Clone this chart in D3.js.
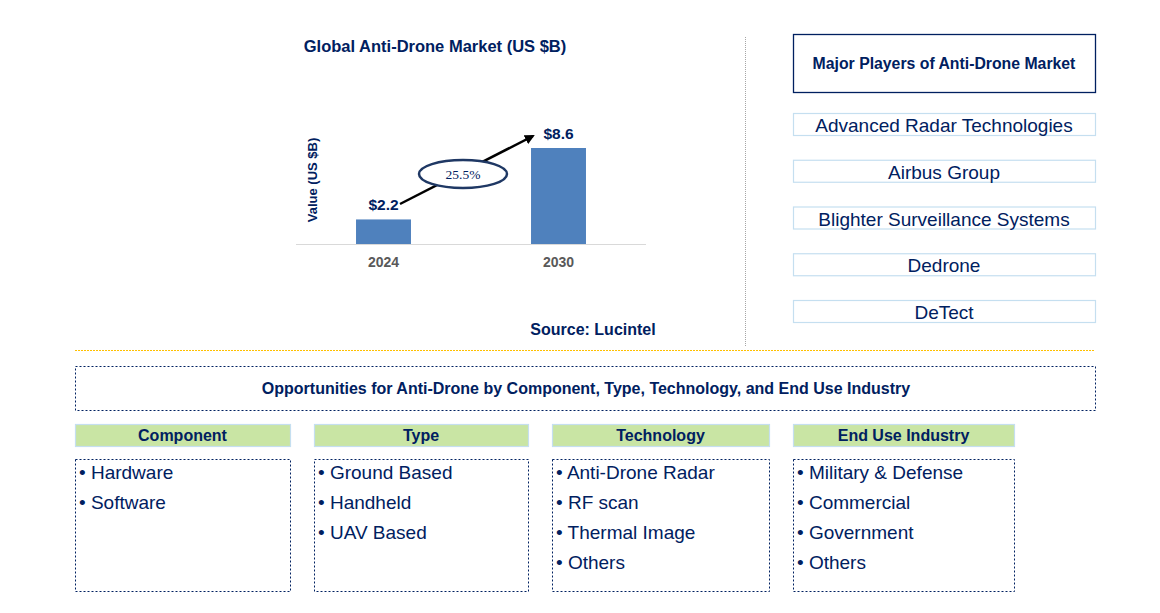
<!DOCTYPE html>
<html><head><meta charset="utf-8">
<script src="https://cdn.jsdelivr.net/npm/d3@7"></script>
<style>body{margin:0;background:#fff}svg{display:block;font-family:"Liberation Sans",Arial,sans-serif}</style>
</head><body><svg id="c" width="1160" height="613"></svg>
<script>
const years = ["2024", "2030"];
const values = [2.2, 8.6];
const valueLabels = ["$2.2", "$8.6"];
const cagr = "25.5%";
const chartTitle = "Global Anti-Drone Market (US $B)";
const yAxisTitle = "Value (US $B)";
const source = "Source: Lucintel";
const playersTitle = "Major Players of Anti-Drone Market";
const players = ["Advanced Radar Technologies", "Airbus Group", "Blighter Surveillance Systems", "Dedrone", "DeTect"];
const oppTitle = "Opportunities for Anti-Drone by Component, Type, Technology, and End Use Industry";
const segments = ["Component", "Type", "Technology", "End Use Industry"];
const segmentItems = [
  ["Hardware", "Software"],
  ["Ground Based", "Handheld", "UAV Based"],
  ["Anti-Drone Radar", "RF scan", "Thermal Image", "Others"],
  ["Military & Defense", "Commercial", "Government", "Others"]
];

const navy = "#002060";
const svg = d3.select("#c");

// Chart
const x = d3.scaleBand().domain(years).range([296, 646]).paddingInner(0.686).paddingOuter(0.343);
const y = d3.scaleLinear().domain([0, 8.6]).range([244, 148]);

svg.append("text").attr("x", 435).attr("y", 52).attr("text-anchor", "middle")
  .attr("font-size", 16.5).attr("font-weight", "bold").attr("fill", navy).text(chartTitle);

svg.selectAll("rect.bar").data(values).join("rect").attr("class", "bar")
  .attr("x", (d, i) => x(years[i])).attr("width", x.bandwidth())
  .attr("y", d => y(d)).attr("height", d => y(0) - y(d)).attr("fill", "#4F81BD");

svg.append("line").attr("x1", 296).attr("x2", 646).attr("y1", y(0) + 0.5).attr("y2", y(0) + 0.5)
  .attr("stroke", "#D9D9D9").attr("stroke-width", 1);

svg.selectAll("text.yr").data(years).join("text").attr("class", "yr")
  .attr("x", d => x(d) + x.bandwidth() / 2).attr("y", 267).attr("text-anchor", "middle")
  .attr("font-size", 14).attr("font-weight", "bold").attr("fill", "#595959").text(d => d);

svg.selectAll("text.vl").data(values).join("text").attr("class", "vl")
  .attr("x", (d, i) => x(years[i]) + x.bandwidth() / 2).attr("y", d => y(d) - 9).attr("text-anchor", "middle")
  .attr("font-size", 15.5).attr("font-weight", "bold").attr("fill", navy).text((d, i) => valueLabels[i]);

svg.append("text").attr("transform", "translate(317,180) rotate(-90)").attr("text-anchor", "middle")
  .attr("font-size", 13).attr("font-weight", "bold").attr("fill", navy).text(yAxisTitle);

// Arrow
const defs = svg.append("defs");
defs.append("marker").attr("id", "ah").attr("viewBox", "0 0 10 10").attr("refX", 8).attr("refY", 5)
  .attr("markerWidth", 4).attr("markerHeight", 4).attr("orient", "auto")
  .append("path").attr("d", "M0,0L10,5L0,10z").attr("fill", "#000");
svg.append("line").attr("x1", 400).attr("y1", 204).attr("x2", 533).attr("y2", 136)
  .attr("stroke", "#000").attr("stroke-width", 2.5).attr("marker-end", "url(#ah)");
svg.append("ellipse").attr("cx", 463).attr("cy", 174).attr("rx", 44).attr("ry", 14)
  .attr("fill", "#fff").attr("stroke", "#1F3864").attr("stroke-width", 2.5);
svg.append("text").attr("x", 463).attr("y", 178.5).attr("text-anchor", "middle")
  .attr("font-family", "Liberation Serif, Times New Roman, serif").attr("font-size", 13.5)
  .attr("fill", navy).text(cagr);

svg.append("text").attr("x", 593).attr("y", 335).attr("text-anchor", "middle")
  .attr("font-size", 16).attr("font-weight", "bold").attr("fill", navy).text(source);

// Separators
svg.append("line").attr("x1", 745.5).attr("x2", 745.5).attr("y1", 37).attr("y2", 347)
  .attr("stroke", "#A6A6A6").attr("stroke-dasharray", "1,1");
svg.append("line").attr("x1", 75).attr("x2", 1095).attr("y1", 350.5).attr("y2", 350.5)
  .attr("stroke", "#FFC000").attr("stroke-dasharray", "2,1");

// Players
svg.append("rect").attr("x", 793.5).attr("y", 34.5).attr("width", 302).attr("height", 58)
  .attr("fill", "none").attr("stroke", navy).attr("stroke-width", 1.3);
svg.append("text").attr("x", 944).attr("y", 68.5).attr("text-anchor", "middle")
  .attr("font-size", 15.8).attr("font-weight", "bold").attr("fill", navy).text(playersTitle);
const py = d3.scalePoint().domain(players).range([124.5, 311.5]);
const pg = svg.selectAll("g.pl").data(players).join("g").attr("class", "pl");
pg.append("rect").attr("x", 793.5).attr("y", d => py(d) - 11).attr("width", 302).attr("height", 22)
  .attr("fill", "#fff").attr("stroke", "#C5DFF0").attr("stroke-width", 1.2);
pg.append("text").attr("x", 944).attr("y", d => py(d) + 7.5).attr("text-anchor", "middle")
  .attr("font-size", 19).attr("fill", navy).text(d => d);

// Opportunities
svg.append("rect").attr("x", 75.5).attr("y", 366.5).attr("width", 1020).attr("height", 44)
  .attr("fill", "none").attr("stroke", navy).attr("stroke-dasharray", "2,2");
svg.append("text").attr("x", 586).attr("y", 394).attr("text-anchor", "middle")
  .attr("font-size", 16).attr("font-weight", "bold").attr("fill", navy).text(oppTitle);

const segX = [75, 314, 552, 793];
const segW = [215, 214, 217, 221];
segments.forEach((s, i) => {
  const g = svg.append("g");
  g.append("rect").attr("x", segX[i] + 0.5).attr("y", 424.5).attr("width", segW[i]).attr("height", 22)
    .attr("fill", "#C9E5A4").attr("stroke", "#C5DFF0").attr("stroke-width", 1.2);
  g.append("text").attr("x", segX[i] + segW[i] / 2).attr("y", 441).attr("text-anchor", "middle")
    .attr("font-size", 16).attr("font-weight", "bold").attr("fill", navy).text(s);
  g.append("rect").attr("x", segX[i] + 0.5).attr("y", 459.5).attr("width", segW[i]).attr("height", 132)
    .attr("fill", "none").attr("stroke", navy).attr("stroke-dasharray", "2,2");
  segmentItems[i].forEach((t, j) => {
    g.append("text").attr("x", segX[i] + 4).attr("y", 479 + j * 30)
      .attr("font-size", 19).attr("fill", navy).text("\u2022 " + t);
  });
});
</script></body></html>
